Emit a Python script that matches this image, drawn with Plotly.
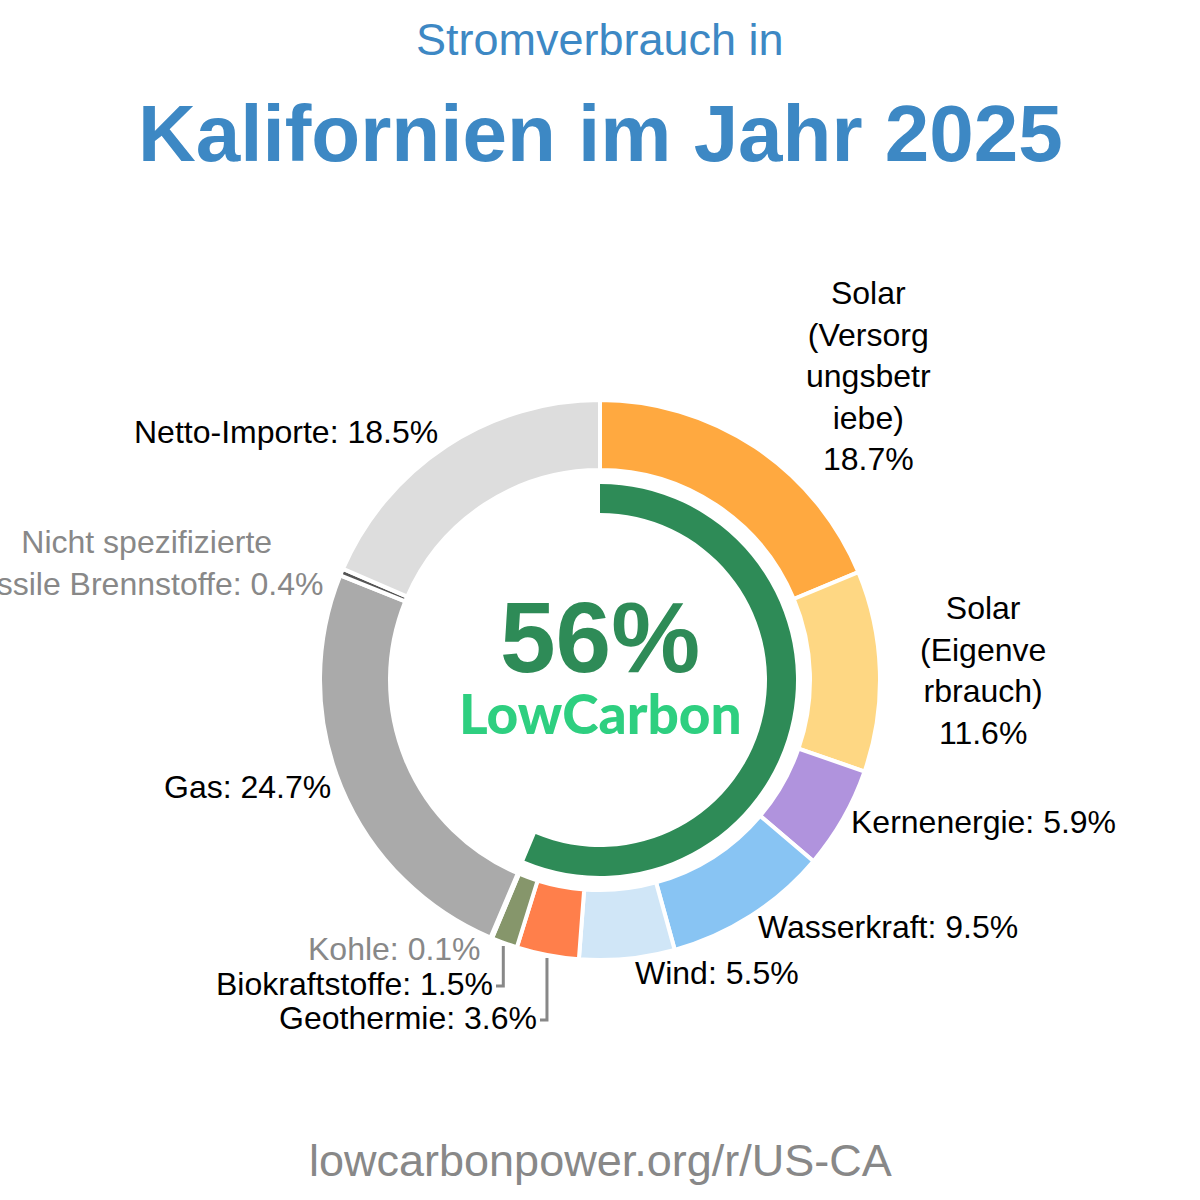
import math
import plotly.graph_objects as go

# ---------------- data ----------------
sources = [
    "Solar (Versorgungsbetriebe)", "Solar (Eigenverbrauch)", "Kernenergie",
    "Wasserkraft", "Wind", "Geothermie", "Biokraftstoffe", "Kohle", "Gas",
    "Nicht spezifizierte fossile Brennstoffe", "Netto-Importe",
]
shares = [18.7, 11.6, 5.9, 9.5, 5.5, 3.6, 1.5, 0.1, 24.7, 0.4, 18.5]
label_texts = [
    "Solar<br>(Versorg<br>ungsbetr<br>iebe)<br>18.7%",
    "Solar<br>(Eigenve<br>rbrauch)<br>11.6%",
    "Kernenergie: 5.9%",
    "Wasserkraft: 9.5%",
    "Wind: 5.5%",
    "Geothermie: 3.6%",
    "Biokraftstoffe: 1.5%",
    "Kohle: 0.1%",
    "Gas: 24.7%",
    "Nicht spezifizierte<br>fossile Brennstoffe: 0.4%",
    "Netto-Importe: 18.5%",
]
low_carbon_share = 56.3
low_carbon_text = "56%"
title_small = "Stromverbrauch in"
title_big = "Kalifornien im Jahr 2025"
footer = "lowcarbonpower.org/r/US-CA"

# ---------------- style / layout ----------------
W = H = 1200
colors = ["#FFA940", "#FED783", "#B093DD", "#88C4F3", "#D0E6F7", "#FF7F4B",
          "#86966B", "#333333", "#AAAAAA", "#555555", "#DDDDDD"]
label_colors = ["#000"] * 7 + ["#888"] + ["#000"] + ["#888"] + ["#000"]
# label anchor positions in pixels (x, y, xanchor)
label_pos = [
    (868, 376, "center"), (983, 670, "center"), (849, 822, "left"),
    (756, 927, "left"), (633, 973, "left"), (539, 1018, "right"),
    (495, 984, "right"), (483, 949, "right"), (333, 787, "right"),
    (146, 563, "center"), (440, 432, "right"),
]
leader_for = {5: 540, 6: 496}   # slice index -> end x of horizontal leader
CX, CY = 600, 680
R_OUT, R_IN = 280, 210
R_G_OUT, R_G_IN = 196, 167
FONT = "Liberation Sans, Arial, sans-serif"


def px(x):
    return x / W


def py(y):
    return 1 - y / H


fig = go.Figure()

fig.add_trace(go.Pie(
    values=shares, labels=sources, sort=False, direction="clockwise",
    rotation=0, hole=R_IN / R_OUT, textinfo="none", hoverinfo="label+value",
    marker=dict(colors=colors, line=dict(color="white", width=4)),
    domain=dict(x=[px(CX - R_OUT), px(CX + R_OUT)], y=[py(CY + R_OUT), py(CY - R_OUT)]),
    showlegend=False,
))

fig.add_trace(go.Pie(
    values=[low_carbon_share, 100 - low_carbon_share], labels=["LowCarbon", "Rest"],
    sort=False, direction="clockwise", rotation=0, hole=R_G_IN / R_G_OUT,
    textinfo="none", hoverinfo="skip",
    marker=dict(colors=["#2E8B57", "rgba(0,0,0,0)"], line=dict(width=0)),
    domain=dict(x=[px(CX - R_G_OUT), px(CX + R_G_OUT)], y=[py(CY + R_G_OUT), py(CY - R_G_OUT)]),
    showlegend=False,
))

annotations = []
for txt, col, (x, y, anc) in zip(label_texts, label_colors, label_pos):
    annotations.append(dict(
        x=px(x), y=py(y), xref="paper", yref="paper", text=txt, showarrow=False,
        xanchor=anc, yanchor="middle", align="center",
        font=dict(family=FONT, size=32, color=col),
    ))

# leader lines computed from slice mid-angles
shapes = []
cum = 0
mids = []
for v in shares:
    mids.append((cum + v / 2) / 100 * 2 * math.pi)
    cum += v
for idx, x_end in leader_for.items():
    a = mids[idx]
    x0 = CX + 283 * math.sin(a)
    y0 = CY - 283 * math.cos(a)
    y1 = label_pos[idx][1] + 2
    shapes.append(dict(
        type="path", xref="paper", yref="paper",
        path=f"M {px(x0)} {py(y0)} L {px(x0)} {py(y1)} L {px(x_end)} {py(y1)}",
        line=dict(color="#888", width=3),
    ))

annotations += [
    dict(x=0.5, y=py(40), xref="paper", yref="paper", text=title_small, showarrow=False,
         xanchor="center", yanchor="middle", font=dict(family=FONT, size=45, color="#3D88C4")),
    dict(x=0.5, y=py(133), xref="paper", yref="paper", text=f"<b>{title_big}</b>", showarrow=False,
         xanchor="center", yanchor="middle", font=dict(family=FONT, size=80, color="#3D88C4")),
    dict(x=0.5, y=py(1160), xref="paper", yref="paper", text=footer, showarrow=False,
         xanchor="center", yanchor="middle", font=dict(family=FONT, size=45, color="#888888")),
    dict(x=px(CX), y=py(637), xref="paper", yref="paper", text=f"<b>{low_carbon_text}</b>", showarrow=False,
         xanchor="center", yanchor="middle", font=dict(family=FONT, size=100, color="#2E8B57")),
    dict(x=px(CX), y=py(713), xref="paper", yref="paper", text="LowCarbon", showarrow=False,
         xanchor="center", yanchor="middle",
         font=dict(family="Lato, sans-serif", size=55, weight=900, color="#2ECF80")),
]

fig.update_layout(
    width=W, height=H, margin=dict(l=0, r=0, t=0, b=0),
    paper_bgcolor="white", plot_bgcolor="white",
    annotations=annotations, shapes=shapes,
)

fig.write_html("out.html")
